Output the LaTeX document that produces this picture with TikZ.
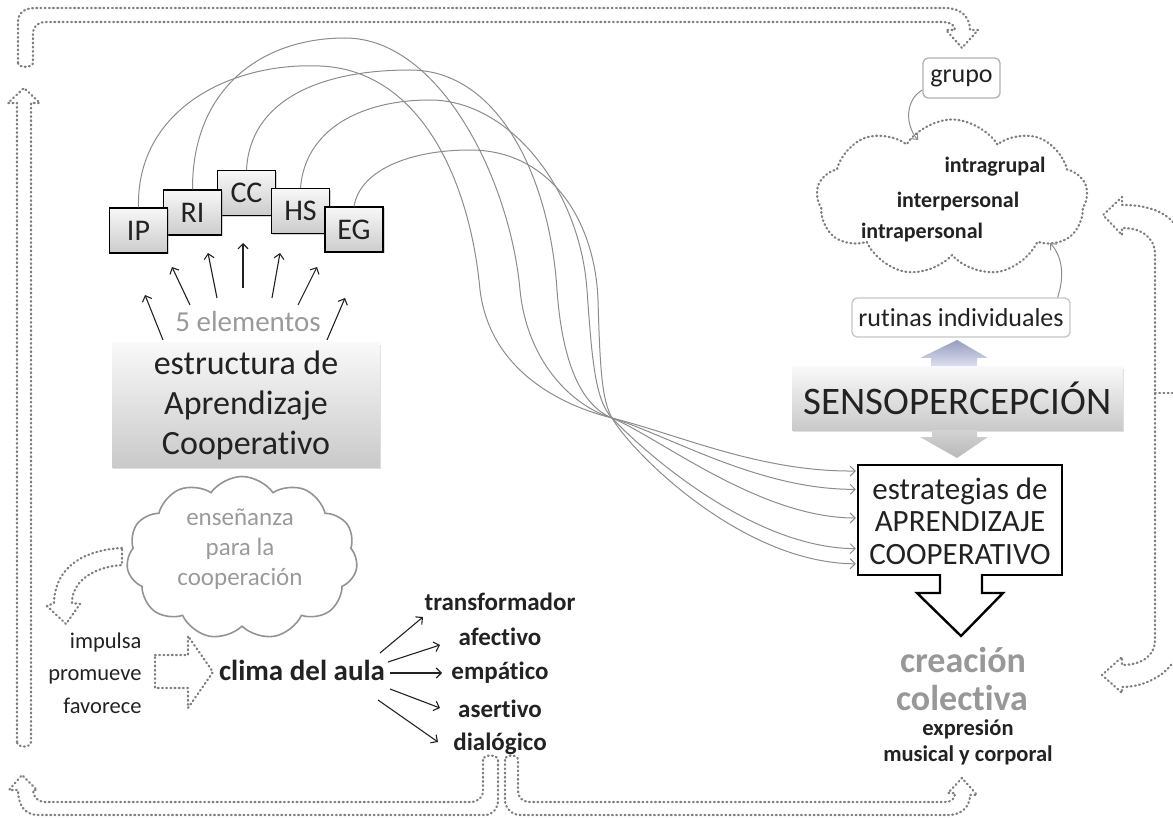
\documentclass[tikz,border=0pt]{standalone}
\usepackage{fontspec}
\setmainfont[Ligatures=NoCommon]{Carlito}
\usetikzlibrary{arrows.meta,shapes.symbols,shadows,calc}
\definecolor{dotc}{HTML}{7E7E7E}
\definecolor{txt}{HTML}{222222}
\definecolor{lgray}{HTML}{9A9A9A}
\definecolor{conn}{HTML}{8C8C8C}
\newcommand{\fsz}[1]{\fontsize{#1}{#1}\selectfont}
\begin{document}
\begin{tikzpicture}[x=1pt,y=-1pt,
  dotline/.style={draw=dotc, line width=2.2pt, dash pattern=on 0.9pt off 3.3pt, line cap=round, line join=round},
  elbox/.style={draw=black, line width=1.1pt, top color=gray!6, bottom color=gray!40,
     minimum width=58pt, minimum height=45pt, inner sep=0pt, font=\fsz{30}, text=txt,
     drop shadow={opacity=0.35,shadow xshift=1.5pt,shadow yshift=-1.5pt}},
  bigbox/.style={top color=gray!5, bottom color=gray!42, inner sep=0pt,
     drop shadow={opacity=0.25,shadow xshift=1pt,shadow yshift=-2pt}},
  rbox/.style={draw=gray!60, line width=1.3pt, rounded corners=5pt, fill=white, inner sep=0pt, text=txt},
  conncurve/.style={draw=conn, line width=1pt, -{Straight Barb[length=5pt,width=10pt]}},
  fan/.style={draw=txt, line width=1.1pt, -{Straight Barb[length=5pt,width=10pt]}},
  thinarr/.style={draw=conn, line width=1pt, -{Straight Barb[length=5pt,width=9pt]}},
  word/.style={font=\bfseries\fsz{25}, text=txt, inner sep=0pt}
]
\useasboundingbox (0,0) rectangle (1173,818);

% ---------- dotted frame ----------
\path[dotline] (18,63) -- (18,22) .. controls (18,13) and (24,8) .. (36,8) -- (945,8)
  .. controls (962,8) and (970,18) .. (970,30) -- (978,30) -- (962,48) -- (946,30) -- (955,30)
  .. controls (955,25) and (950,22) .. (943,22) -- (46,22) .. controls (38,22) and (33,26) .. (33,34)
  -- (33,63) .. controls (33,68) and (18,68) .. (18,63);
\path[dotline] (17,742) -- (17,103) -- (8,103) -- (24,88) -- (40,103) -- (31,103) -- (31,742)
  .. controls (31,748) and (17,748) .. (17,742);
\path[dotline] (483,760) -- (483,790) .. controls (483,798) and (478,802) .. (470,802) -- (45,802)
  .. controls (38,802) and (33,797) .. (33,790) -- (37,790) -- (22,775) -- (9,790) -- (18,790)
  .. controls (18,805) and (25,815) .. (38,815) -- (485,815) .. controls (493,815) and (498,808) .. (498,800)
  -- (498,760) .. controls (498,754) and (483,754) .. (483,760);
\path[dotline] (505,760) -- (505,800) .. controls (505,808) and (512,815) .. (520,815) -- (948,815)
  .. controls (960,815) and (970,808) .. (970,795) -- (977,795) -- (962,778) -- (948,793) -- (955,793)
  .. controls (955,798) and (952,802) .. (945,802) -- (530,802) .. controls (523,802) and (518,798) .. (518,790)
  -- (518,760) .. controls (518,754) and (505,754) .. (505,760);
\path[dotline] (1173,222) .. controls (1160,208) and (1140,205) .. (1122,205) -- (1122,197) -- (1103,215)
  -- (1122,235) -- (1122,228) .. controls (1140,228) and (1155,236) .. (1155,255) -- (1155,640)
  .. controls (1155,657) and (1140,665) .. (1122,665) -- (1122,657) -- (1102,675) -- (1122,693)
  -- (1122,687) .. controls (1145,687) and (1165,675) .. (1173,662);
\path[dotline] (1155,393) -- (1173,393);
% small bent arrow left of cloud
\path[dotline] (122,548) .. controls (85,550) and (55,566) .. (54,603) -- (47,606) -- (66,624)
  -- (80,604) -- (72,603) .. controls (72,580) and (95,567) .. (122,565) -- cycle;
% right pointing block arrow
\path[dotline] (155,655) -- (188,655) -- (188,636) -- (213,672) -- (188,708) -- (188,688) -- (155,688) -- cycle;

% ---------- element boxes ----------
\node[elbox] (cc) at (246.5,193) {CC};
\node[elbox] (ri) at (192.5,212.5) {RI};
\node[elbox] (hs) at (300.5,211) {HS};
\node[elbox] (ip) at (138.5,230.5) {IP};
\node[elbox] (eg) at (354,229.5) {EG};

\node[font=\fsz{29}, text=lgray, inner sep=0pt] (five) at (248,322) {5 elementos};
\coordinate (f1s) at (163,340); \coordinate (f1e) at (145,295);
\coordinate (f2s) at (190,305); \coordinate (f2e) at (172,267);
\coordinate (f3s) at (217,298); \coordinate (f3e) at (208,253);
\coordinate (f4s) at (243,288); \coordinate (f4e) at (243,243);
\coordinate (f5s) at (272,298); \coordinate (f5e) at (280,253);
\coordinate (f6s) at (298,305); \coordinate (f6e) at (317,267);
\coordinate (f7s) at (327,340); \coordinate (f7e) at (345,298);
\foreach \i in {1,...,7} {\draw[fan] (f\i s) -- (f\i e);}

\node[bigbox, minimum width=268pt, minimum height=124pt] (estr) at (246,405) {};
\node[font={\fontsize{34}{40}\selectfont}, align=center, text=txt] at (246,405) {estructura de\\Aprendizaje\\Cooperativo};

% cloud
\node[cloud, cloud puffs=11, cloud puff arc=110, aspect=1.4, draw=gray!85, line width=1.6pt,
      minimum width=231pt, minimum height=163pt, inner sep=0pt] (ens) at (242,558) {};
\node[font={\fontsize{25}{30}\selectfont}, align=center, text=lgray] at (240,549) {ense\~nanza\\para la\\cooperaci\'on};

\node[anchor=east, align=right, font={\fontsize{22.5}{32.5}\selectfont}, text=txt] (imp) at (145,673) {impulsa\\promueve\\favorece};

\node[font=\bfseries\fsz{29}, text=txt, inner sep=0pt] (clima) at (302,670) {clima del aula};
\node[word] (w1) at (500,602) {transformador};
\node[word] (w2) at (500,637) {afectivo};
\node[word] (w3) at (500,673) {emp\'atico};
\node[word] (w4) at (500,709) {asertivo};
\node[word] (w5) at (500,744) {dial\'ogico};
\draw[fan] (380,653) -- (423,617);
\draw[fan] (388,662) -- (440,645);
\draw[fan] (390,673) -- (442,673);
\draw[fan] (390,689) -- (440,708);
\draw[fan] (378,700) -- (438,742);

% ---------- right column ----------
\node[rbox, minimum width=77pt, minimum height=40pt, font=\fsz{26}] (grupo) at (961.5,78) {grupo};
\node[cloud, cloud puffs=9, cloud puff arc=115, aspect=1.7, dotline,
      minimum width=271pt, minimum height=157pt, inner sep=0pt] (inter) at (952,198) {};
\node[font=\bfseries\fsz{22}, text=txt, inner sep=0pt] at (995,167) {intragrupal};
\node[font=\bfseries\fsz{22}, text=txt, inner sep=0pt] at (958,202) {interpersonal};
\node[font=\bfseries\fsz{22}, text=txt, inner sep=0pt] at (922,233) {intrapersonal};
\draw[thinarr] (grupo.west) ++(0,12) .. controls (905,100) and (905,125) .. (918,140);

\node[rbox, minimum width=218pt, minimum height=39pt, font=\fsz{26}, draw=gray!45] (rut) at (961,317.5) {rutinas individuales};
\draw[thinarr] ($(rut.north east)+(-13,0)$) .. controls (1065,275) and (1062,256) .. (1050,243);

% up arrow (bluish)
\shade[top color={rgb,255:red,150;green,156;blue,190}, bottom color={rgb,255:red,236;green,238;blue,250}]
  (931,372) -- (931,358) -- (920,358) -- (957,340) -- (988,358) -- (977,358) -- (977,372) -- cycle;

\node[bigbox, minimum width=331pt, minimum height=63pt, font=\fsz{39}, text=txt] (senso) at (957.5,398.5) {SENSOPERCEPCI\'ON};

% down arrow (gray)
\shade[top color=gray!35, bottom color=gray!55]
  (932,430) -- (932,437) -- (920,437) -- (957,458) -- (988,437) -- (977,437) -- (977,430) -- cycle;

\node[draw=black, line width=2.4pt, fill=white, minimum width=204pt, minimum height=110pt, inner sep=0pt] (strat) at (960,520) {};
\node[align=center, text=txt, font={\fontsize{31}{32.5}\selectfont}] at (960,521) {estrategias de\\APRENDIZAJE\\COOPERATIVO};
% white block arrow
\fill[white] (940.5,572) -- (940.5,593) -- (917,593) -- (961,636) -- (1003,593) -- (981.5,593) -- (981.5,572) -- cycle;
\draw[line width=2.4pt, line join=miter] (940,574) -- (940,593) -- (917,593) -- (961,636) -- (1003,593) -- (982,593) -- (982,574);

\node[font=\bfseries\fsz{36}, text=gray!85!black!70, inner sep=0pt] at (963,660) {creaci\'on};
\node[font=\bfseries\fsz{36}, text=gray!85!black!70, inner sep=0pt] at (962,698) {colectiva};
\node[font=\bfseries\fsz{22.5}, text=txt, inner sep=0pt] at (968,729) {expresi\'on};
\node[font=\bfseries\fsz{22.5}, text=txt, inner sep=0pt] at (968,755) {musical y corporal};

% ---------- long curved connectors ----------
\coordinate (cx) at (612,418);
\draw[conncurve] (ip.north) .. controls (136,110) and (230,62) .. (320,66)
  .. controls (420,70) and (470,180) .. (480,290) .. controls (490,370) and (560,405) .. (cx)
  .. controls (680,435) and (760,472) .. ($(strat.north west)!0.064!(strat.south west)+(-1,0)$);
\draw[conncurve] (ri.north) .. controls (192,90) and (260,38) .. (345,38)
  .. controls (440,38) and (510,180) .. (520,290) .. controls (527,360) and (570,405) .. (cx)
  .. controls (670,436) and (760,490) .. ($(strat.north west)!0.227!(strat.south west)+(-1,0)$);
\draw[conncurve] (cc.north) .. controls (250,100) and (320,70) .. (410,70)
  .. controls (500,70) and (550,180) .. (557,290) .. controls (562,360) and (580,405) .. (cx)
  .. controls (660,438) and (760,518) .. ($(strat.north west)!0.482!(strat.south west)+(-1,0)$);
\draw[conncurve] (hs.north) .. controls (305,130) and (360,100) .. (430,100)
  .. controls (510,100) and (580,190) .. (587,290) .. controls (592,360) and (595,400) .. (cx)
  .. controls (640,448) and (750,548) .. ($(strat.north west)!0.755!(strat.south west)+(-1,0)$);
\draw[conncurve] (eg.north) .. controls (360,170) and (410,150) .. (470,150)
  .. controls (550,150) and (595,220) .. (598,300) .. controls (600,370) and (602,400) .. (cx)
  .. controls (630,450) and (740,563) .. ($(strat.north west)!0.89!(strat.south west)+(-1,0)$);
\end{tikzpicture}
\end{document}
